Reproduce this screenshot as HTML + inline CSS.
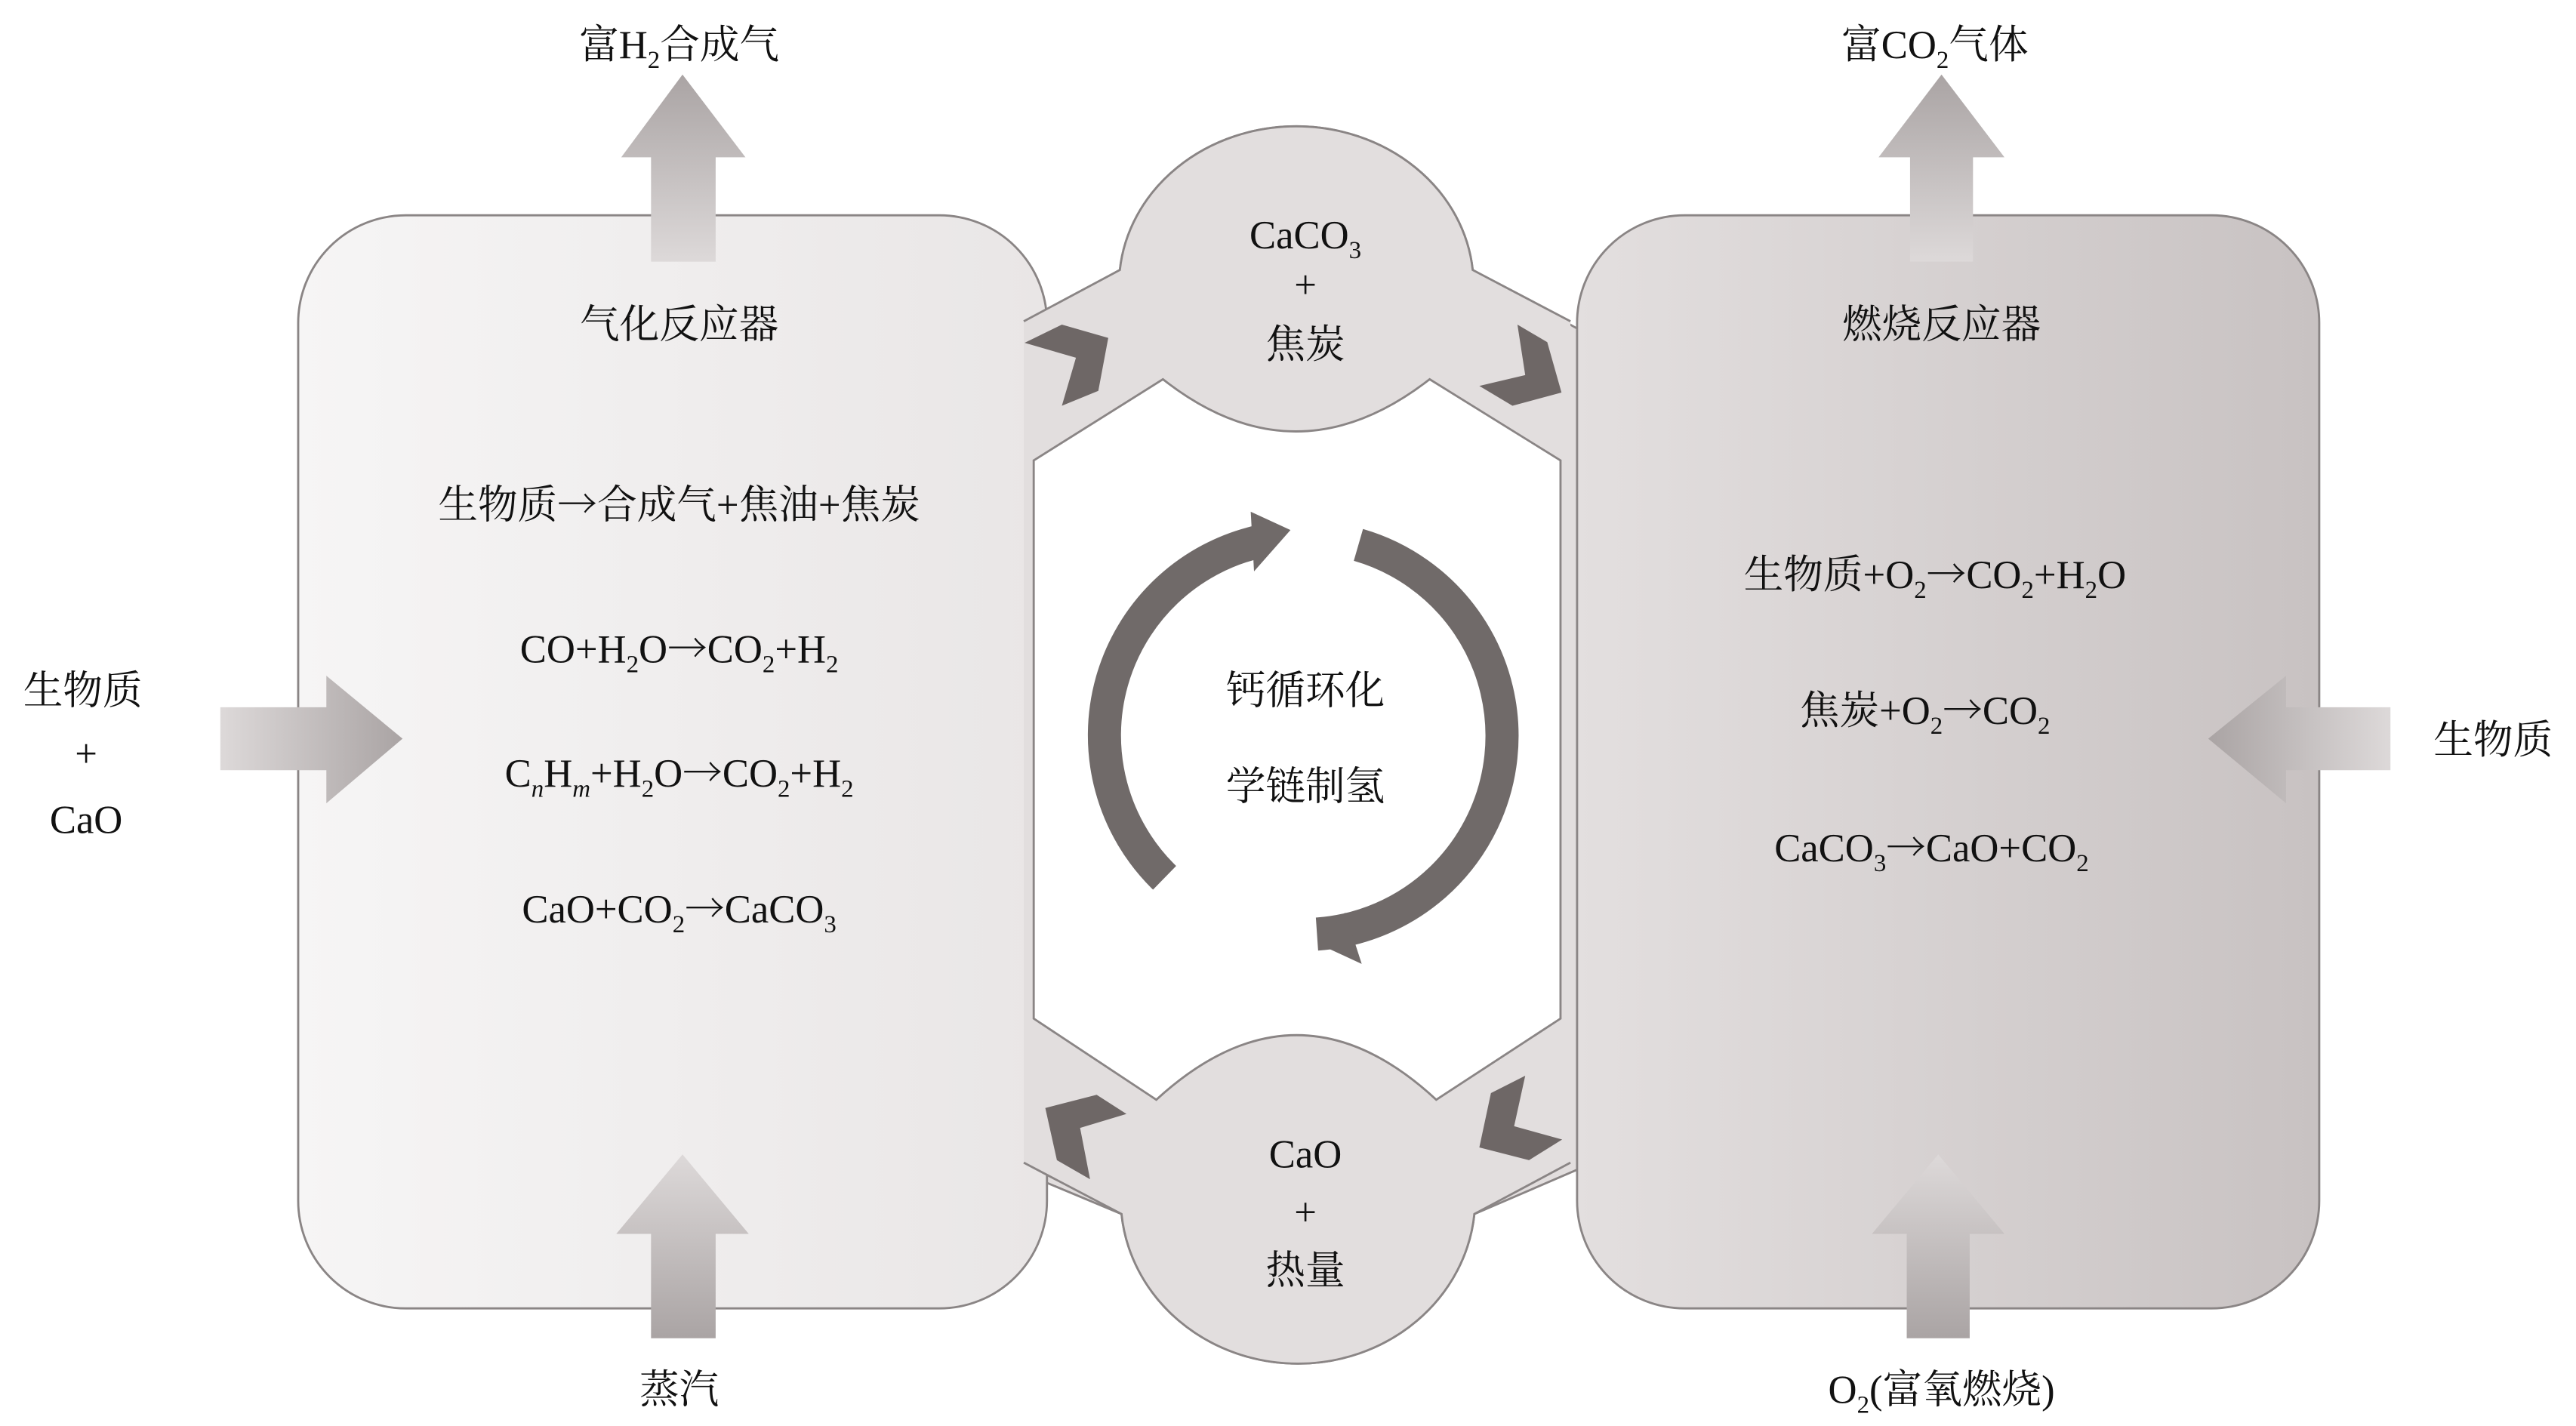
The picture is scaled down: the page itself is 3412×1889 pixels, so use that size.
<!DOCTYPE html>
<html><head><meta charset="utf-8"><style>
html,body{margin:0;padding:0;background:#fff}
svg{display:block}
text{font-family:"Liberation Serif","Noto Serif CJK SC",serif;fill:#111;text-anchor:middle}
.a{font-family:"Noto Serif CJK SC","DejaVu Serif",serif}
</style></head><body>
<svg width="3412" height="1889" viewBox="0 0 1555 861" preserveAspectRatio="none" xmlns="http://www.w3.org/2000/svg">
<defs>
<linearGradient id="gl" x1="0" y1="0" x2="1" y2="0"><stop offset="0" stop-color="#f6f5f5"/><stop offset="1" stop-color="#e9e6e6"/></linearGradient>
<linearGradient id="gr" x1="0" y1="0" x2="1" y2="0"><stop offset="0" stop-color="#e3dfdf"/><stop offset="1" stop-color="#c8c2c2"/></linearGradient>
<linearGradient id="au" x1="0" y1="1" x2="0" y2="0"><stop offset="0" stop-color="#ddd9d9"/><stop offset="1" stop-color="#aaa4a4"/></linearGradient>
<linearGradient id="ad" x1="0" y1="1" x2="0" y2="0"><stop offset="0" stop-color="#aaa4a4"/><stop offset="1" stop-color="#ddd9d9"/></linearGradient>
<linearGradient id="ah" x1="0" y1="0" x2="1" y2="0"><stop offset="0" stop-color="#ddd9d9"/><stop offset="1" stop-color="#aaa4a4"/></linearGradient>
<linearGradient id="ah2" x1="1" y1="0" x2="0" y2="0"><stop offset="0" stop-color="#ddd9d9"/><stop offset="1" stop-color="#aaa4a4"/></linearGradient>
</defs>

<path d="M610,200 L676,163 A107,96 0 0 1 889,163 L955,200 L955,705 L890,733 A107,100 0 0 1 677,733 L610,705 Z" fill="#e2dede" stroke="#8a8585" stroke-width="1.3"/>
<rect x="180" y="130" width="452" height="660" rx="65" fill="url(#gl)" stroke="#8a8585" stroke-width="1.3"/>
<rect x="952" y="130" width="448" height="660" rx="65" fill="url(#gr)" stroke="#8a8585" stroke-width="1.3"/>
<path d="M618,194 L676,163 A107,96 0 0 1 889,163 L948,194 L948,702 L890,733 A107,100 0 0 1 677,733 L618,702 Z" fill="#e2dede" stroke="none"/>
<path d="M618,194 L676,163 A107,96 0 0 1 889,163 L948,194" fill="none" stroke="#8a8585" stroke-width="1.3"/>
<path d="M618,702 L677,733 A107,100 0 0 0 890,733 L948,702" fill="none" stroke="#8a8585" stroke-width="1.3"/>
<path d="M624,278 L702,229 Q782,292 863,229 L942,278 L942,615 L867,664 Q783,586 698,664 L624,615 Z" fill="#fff" stroke="#8a8585" stroke-width="1.3"/>

<g fill="#6e6766">
<polygon points="618.5,207 641,196 669,204 663,236 641,245 649.5,216"/>
<polygon points="916,196 934,206.6 942.6,237 913,245 893,233 920.7,226.5"/>
<polygon points="631,669 662,661 680,672.6 652,681 658,712 638,700.5"/>
<polygon points="920.7,649.5 914,680 943,688 923,700.5 893,692.8 900,660"/>
</g>

<polygon points="393,158 393,95 375,95 412,45 450,95 432,95 432,158" fill="url(#au)"/>
<polygon points="1153,158 1153,95 1134,95 1172,45 1210,95 1191,95 1191,158" fill="url(#au)"/>
<polygon points="393,808 393,745 372,745 412,697 452,745 432,745 432,808" fill="url(#ad)"/>
<polygon points="1151,808 1151,745 1130,745 1170,697 1210,745 1189,745 1189,808" fill="url(#ad)"/>
<polygon points="133,427 197,427 197,408 243,446 197,485 197,465 133,465" fill="url(#ah)"/>
<polygon points="1443,427 1380,427 1380,408 1333,446 1380,485 1380,465 1443,465" fill="url(#ah2)"/>

<g fill="none" stroke="#706a69" stroke-width="20">
<path d="M703,530 A120,120 0 0 1 760,327"/>
<path d="M820,329 A120,120 0 0 1 795,564"/>
</g>
<polygon points="812,551 796,570 822,582" fill="#706a69"/>
<polygon points="755,309 779,320 757,345" fill="#706a69"/>

<g font-size="24">
<text x="410" y="35">富H<tspan font-size="15" dy="6">2</tspan><tspan dy="-6">合成气</tspan></text>
<text x="1168" y="35">富CO<tspan font-size="15" dy="6">2</tspan><tspan dy="-6">气体</tspan></text>
<text x="410" y="204">气化反应器</text>
<text x="1172" y="204">燃烧反应器</text>
<text x="410" y="313">生物质<tspan class="a">→</tspan>合成气+焦油+焦炭</text>
<text x="410" y="400">CO+H<tspan font-size="15" dy="6">2</tspan><tspan dy="-6">O</tspan><tspan class="a">→</tspan>CO<tspan font-size="15" dy="6">2</tspan><tspan dy="-6">+H</tspan><tspan font-size="15" dy="6">2</tspan></text>
<text x="410" y="475">C<tspan font-size="15" dy="6" font-style="italic">n</tspan><tspan dy="-6">H</tspan><tspan font-size="15" dy="6" font-style="italic">m</tspan><tspan dy="-6">+H</tspan><tspan font-size="15" dy="6">2</tspan><tspan dy="-6">O</tspan><tspan class="a">→</tspan>CO<tspan font-size="15" dy="6">2</tspan><tspan dy="-6">+H</tspan><tspan font-size="15" dy="6">2</tspan></text>
<text x="410" y="557">CaO+CO<tspan font-size="15" dy="6">2</tspan><tspan dy="-6" class="a">→</tspan>CaCO<tspan font-size="15" dy="6">3</tspan></text>
<text x="1168" y="355">生物质+O<tspan font-size="15" dy="6">2</tspan><tspan dy="-6" class="a">→</tspan>CO<tspan font-size="15" dy="6">2</tspan><tspan dy="-6">+H</tspan><tspan font-size="15" dy="6">2</tspan><tspan dy="-6">O</tspan></text>
<text x="1162" y="437">焦炭+O<tspan font-size="15" dy="6">2</tspan><tspan dy="-6" class="a">→</tspan>CO<tspan font-size="15" dy="6">2</tspan></text>
<text x="1166" y="520">CaCO<tspan font-size="15" dy="6">3</tspan><tspan dy="-6" class="a">→</tspan>CaO+CO<tspan font-size="15" dy="6">2</tspan></text>
<text x="50" y="425">生物质</text>
<text x="52" y="463">+</text>
<text x="52" y="503">CaO</text>
<text x="1505" y="455">生物质</text>
<text x="410" y="847">蒸汽</text>
<text x="1172" y="847">O<tspan font-size="15" dy="6">2</tspan><tspan dy="-6">(富氧燃烧)</tspan></text>
<text x="788" y="150">CaCO<tspan font-size="15" dy="6">3</tspan></text>
<text x="788" y="180">+</text>
<text x="788" y="216">焦炭</text>
<text x="788" y="705">CaO</text>
<text x="788" y="740">+</text>
<text x="788" y="775">热量</text>
<text x="788" y="425">钙循环化</text>
<text x="788" y="483">学链制氢</text>
</g>
</svg>
</body></html>
